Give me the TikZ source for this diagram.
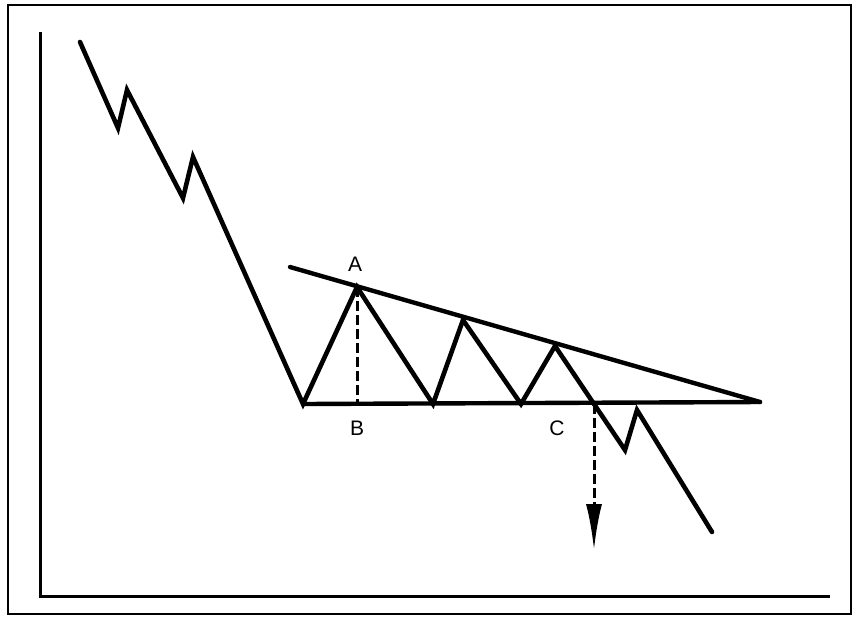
\documentclass[tikz,border=0pt]{standalone}
\usepackage{fontspec}
\setsansfont{Liberation Sans}
\usetikzlibrary{arrows.meta}
\begin{document}
\begin{tikzpicture}[x=1pt,y=-1pt,
  price/.style={line width=4.6pt,line join=miter,line cap=round},
  trend/.style={line width=4.4pt,line cap=round},
  guide/.style={line width=3pt,dash pattern=on 10pt off 4pt},
  axis/.style={line width=3pt},
  lbl/.style={font=\sffamily\fontsize{21}{21}\selectfont,inner sep=0pt}]
\useasboundingbox (0,0) rectangle (856,619);
\draw[line width=2.4pt] (8,5) rectangle (851,614);
% axes
\coordinate (ytop) at (40,32);
\coordinate (org) at (40,596);
\coordinate (xend) at (830,596);
\draw[axis] (ytop) -- (org) -- (xend);
% price path
\coordinate (p0) at (80,42);
\coordinate (p1) at (118,128);
\coordinate (p2) at (127,90);
\coordinate (p3) at (183,198);
\coordinate (p4) at (193,157);
\coordinate (p5) at (303,404);
\coordinate (A) at (357,287);
\coordinate (p7) at (433,404);
\coordinate (p8) at (463,320);
\coordinate (p9) at (521,404);
\coordinate (p10) at (555,346);
\coordinate (Cx) at (594,404);
\coordinate (p12) at (625,450);
\coordinate (p13) at (637,410);
\coordinate (p14) at (712,532);
\draw[price] (p0) -- (p1) -- (p2) -- (p3) -- (p4) -- (p5) -- (A) -- (p7) -- (p8) -- (p9) -- (p10) -- (Cx) -- (p12) -- (p13) -- (p14);
% triangle lines
\coordinate (tl) at (290,267);
\coordinate (apex) at (760,402);
\draw[trend] (tl) -- (apex);
\draw[trend] (p5) -- (apex);
% dashed guides
\coordinate (B) at (357,404);
\draw[guide] (A) -- (B);
\coordinate (arrowend) at (594,550);
\draw[guide,-{Latex[length=46pt,width=16pt]}] (Cx) -- (arrowend);
% labels
\node[lbl] (la) at (355,264) {A};
\node[lbl] (lb) at (357,428) {B};
\node[lbl] (lc) at (557,428) {C};
\end{tikzpicture}
\end{document}
